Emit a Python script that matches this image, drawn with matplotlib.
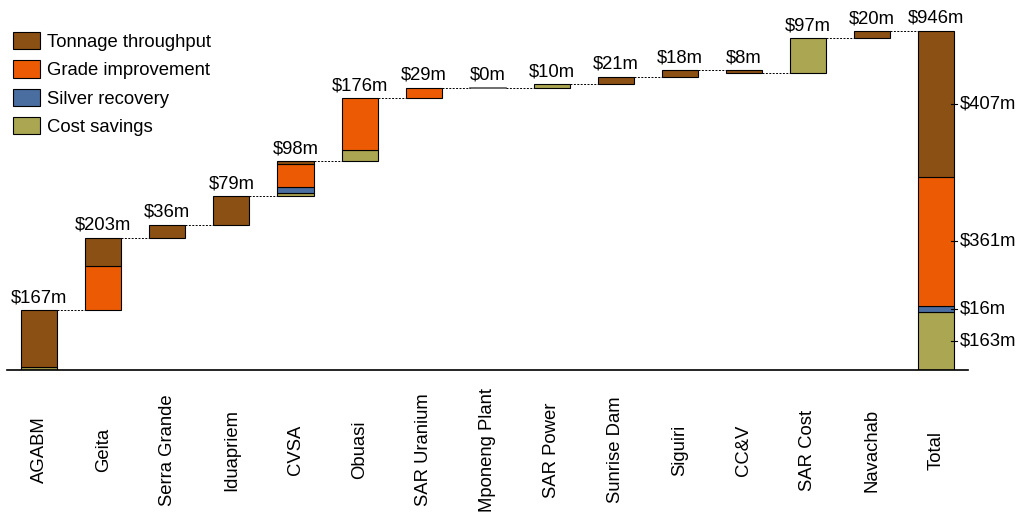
import matplotlib
matplotlib.use("Agg")
import matplotlib.pyplot as plt
import numpy as np

plt.rcParams['font.family'] = ['Liberation Sans', 'DejaVu Sans']

categories = ["AGABM", "Geita", "Serra Grande", "Iduapriem", "CVSA", "Obuasi",
              "SAR Uranium", "Mponeng Plant", "SAR Power", "Sunrise Dam", "Siguiri",
              "CC&V", "SAR Cost", "Navachab"]
tonnage = [160, 80, 36, 79, 8, 0, 0, 0, 0, 21, 18, -8, 0, 20]
grade   = [0, 123, 0, 0, 64, 145, 29, 0, 0, 0, 0, 0, 0, 0]
silver  = [0, 0, 0, 0, 16, 0, 0, 0, 0, 0, 0, 0, 0, 0]
cost    = [7, 0, 0, 0, 10, 31, 0, 0, 10, 0, 0, 0, 97, 0]
bar_labels = ["$167m", "$203m", "$36m", "$79m", "$98m", "$176m", "$29m", "$0m",
              "$10m", "$21m", "$18m", "$8m", "$97m", "$20m"]

total_label = "Total"
total_parts = [163, 16, 361, 407]          # cost, silver, grade, tonnage
total_part_labels = ["$163m", "$16m", "$361m", "$407m"]
total_text = "$946m"

series_names = ["Cost savings", "Silver recovery", "Grade improvement", "Tonnage throughput"]
colors = ["#AAA652", "#4A6EA0", "#EC5B04", "#8B5014"]

W, H = 1021, 512
fig = plt.figure(figsize=(W / 100, H / 100), dpi=100)
ax = fig.add_axes([7.3 / W, (H - 370) / H, (968 - 7.3) / W, 358 / H])

bw = 0.5625
fs = 13.3
stack = [cost, silver, grade, tonnage]
n = len(categories)
cum = 0.0
ends = []
handles = {}
for i in range(n):
    start = cum
    b = start
    for s, (vals, col) in enumerate(zip(stack, colors)):
        v = vals[i]
        if v != 0:
            r = ax.bar(i, v, bottom=b, width=bw, color=col, edgecolor='black', linewidth=0.8)
            handles[s] = r
            b += v
    end = b
    if start == end:
        ax.plot([i - bw / 2, i + bw / 2], [start, start], color='#555555', lw=1.2)
    top = max(start, end)
    ax.annotate(bar_labels[i], (i, top), xytext=(0, 3), textcoords='offset points',
                ha='center', va='bottom', fontsize=fs)
    ends.append(end)
    cum = end

# total bar
ti = n
b = 0
centers = []
for s, (v, col) in enumerate(zip(total_parts, colors)):
    ax.bar(ti, v, bottom=b, width=bw, color=col, edgecolor='black', linewidth=0.8)
    centers.append(b + v / 2)
    b += v
total_top = b
ax.annotate(total_text, (ti, total_top), xytext=(0, 3), textcoords='offset points',
            ha='center', va='bottom', fontsize=fs)
edge = ti + bw / 2
for c, lab in zip(centers, total_part_labels):
    ax.plot([edge - 0.045, edge + 0.045], [c, c], color='black', lw=0.8)
    ax.text(edge + 0.085, c, lab, ha='left', va='center', fontsize=fs)

# connectors
levels = ends
for i in range(n):
    lvl = levels[i]
    ax.plot([i + bw / 2, i + 1 - bw / 2], [lvl, lvl], color='black', lw=0.7,
            linestyle=(0, (2, 1.5)))

ax.set_xlim(-0.5, 14.5)
ax.set_ylim(0, 1000)
for sp in ['top', 'right', 'left']:
    ax.spines[sp].set_visible(False)
ax.spines['bottom'].set_linewidth(1.2)
ax.set_yticks([])
ax.set_xticks(range(n + 1))
ax.set_xticklabels(categories + [total_label], rotation=90, va='center', ha='center', fontsize=fs)
ax.tick_params(axis='x', length=0, pad=57.6)

leg_handles = [handles[3], handles[2], handles[1], handles[0]]
leg_names = [series_names[3], series_names[2], series_names[1], series_names[0]]
fig.legend(leg_handles, leg_names, loc='upper left',
           bbox_to_anchor=(13 / W, 1 - 32 / H), bbox_transform=fig.transFigure,
           frameon=False, fontsize=fs, borderpad=0, borderaxespad=0,
           handlelength=1.46, handleheight=1.08, labelspacing=0.5, handletextpad=0.38)

fig.savefig("out.png", dpi=100)
